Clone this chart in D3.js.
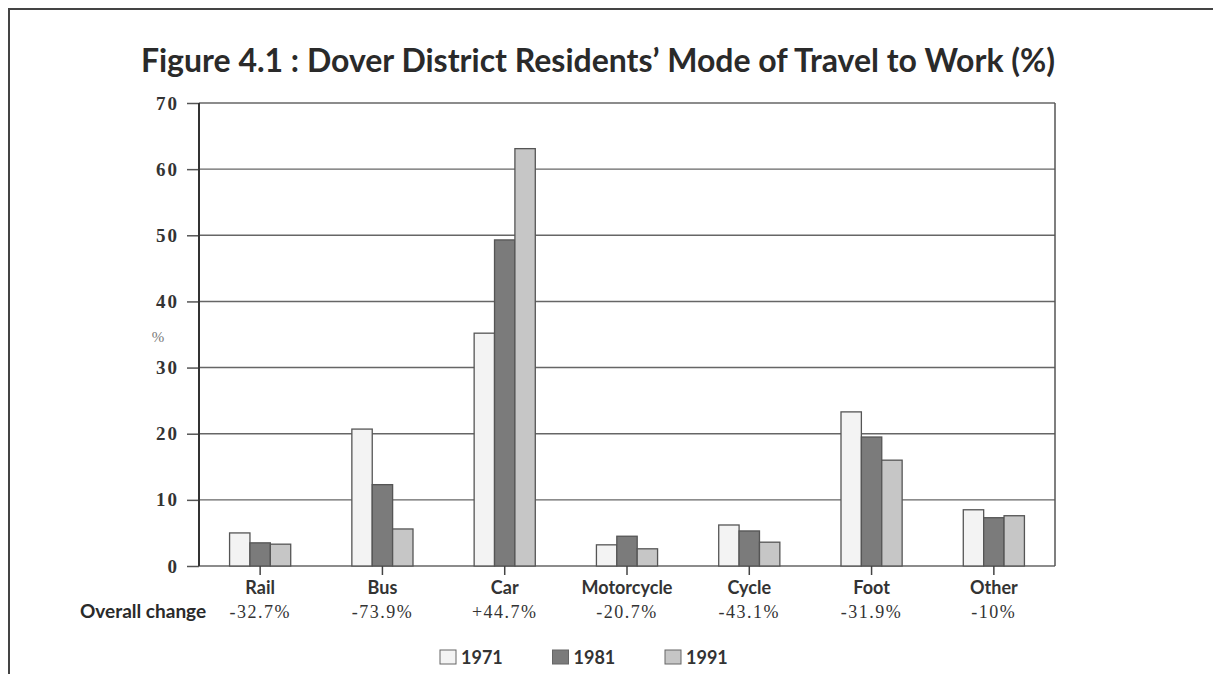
<!DOCTYPE html>
<html>
<head>
<meta charset="utf-8">
<script src="https://cdn.jsdelivr.net/npm/d3@7"></script>
<style>
  body { margin: 0; background: #fff; }
  .title { font-family: Lato, "Open Sans", sans-serif; font-weight: bold; fill: #2a2a2a; }
  .ytick text { font-family: "Liberation Serif", "DejaVu Serif", serif; font-weight: bold; font-size: 19px; letter-spacing: 2px; fill: #333; }
</style>
</head>
<body>
<script>
// categories and values (percent of residents)
var modes = ["Rail", "Bus", "Car", "Motorcycle", "Cycle", "Foot", "Other"];
var years = ["1971", "1981", "1991"];
var v1971 = [5.0, 20.7, 35.2, 3.2, 6.2, 23.3, 8.5];
var v1981 = [3.5, 12.3, 49.3, 4.5, 5.3, 19.5, 7.3];
var v1991 = [3.3, 5.6, 63.1, 2.6, 3.6, 16.0, 7.6];
var change = ["-32.7%", "-73.9%", "+44.7%", "-20.7%", "-43.1%", "-31.9%", "-10%"];
var yTicks = [0, 10, 20, 30, 40, 50, 60, 70];

window.onload = function() {
  var W = 1213, H = 674;
  var margin = {top: 103, right: 158, bottom: 108, left: 199},
      width = W - margin.left - margin.right,
      height = H - margin.top - margin.bottom;

  var svg = d3.select("body").append("svg")
    .attr("width", W)
    .attr("height", H);

  // outer frame (top and left only)
  svg.append("path")
    .attr("d", "M9 674 L9 9 L1213 9")
    .attr("fill", "none")
    .attr("stroke", "#444")
    .attr("stroke-width", 2);

  svg.append("text")
    .attr("class", "title")
    .attr("x", 598)
    .attr("y", 72)
    .attr("text-anchor", "middle")
    .style("font-size", "32px")
    .text("Figure 4.1 : Dover District Residents\u2019 Mode of Travel to Work (%)");

  var g = svg.append("g")
    .attr("transform", "translate(" + margin.left + "," + margin.top + ")");

  var x0 = d3.scaleBand().domain(modes).range([0, width]).paddingInner(0.5).paddingOuter(0.25);
  var x1 = d3.scaleBand().domain(years).range([0, x0.bandwidth()]);
  var y = d3.scaleLinear().domain([0, 70]).range([height, 0]);

  var color = d3.scaleOrdinal().domain(years).range(["#f3f3f3", "#7b7b7b", "#c6c6c6"]);

  // gridlines + y axis
  var yaxis = d3.axisLeft(y).tickValues(yTicks).tickSize(12).tickPadding(8);
  g.append("g")
    .attr("class", "ytick")
    .call(yaxis)
    .call(function(s) {
      s.select(".domain").remove();
      s.selectAll("line").attr("stroke", "#555").attr("stroke-width", 1.5);
    });

  g.append("g")
    .selectAll("line")
    .data(yTicks)
    .enter().append("line")
    .attr("x1", 0)
    .attr("x2", width)
    .attr("y1", function(d) { return y(d); })
    .attr("y2", function(d) { return y(d); })
    .attr("stroke", "#666")
    .attr("stroke-width", 1.4);

  // plot frame sides
  g.append("line").attr("x1", 0).attr("x2", 0).attr("y1", 0).attr("y2", height)
    .attr("stroke", "#333").attr("stroke-width", 2);
  g.append("line").attr("x1", width).attr("x2", width).attr("y1", 0).attr("y2", height)
    .attr("stroke", "#555").attr("stroke-width", 1.5);

  // bars
  var series = [v1971, v1981, v1991];
  var rows = modes.map(function(m, i) {
    return years.map(function(yr, j) { return {mode: m, year: yr, value: series[j][i]}; });
  });

  g.selectAll("g.grp")
    .data(rows)
    .enter().append("g")
    .attr("class", "grp")
    .attr("transform", function(d) { return "translate(" + x0(d[0].mode) + ",0)"; })
    .selectAll("rect")
    .data(function(d) { return d; })
    .enter().append("rect")
    .attr("x", function(d) { return x1(d.year); })
    .attr("y", function(d) { return y(d.value); })
    .attr("width", x1.bandwidth())
    .attr("height", function(d) { return height - y(d.value); })
    .attr("fill", function(d) { return color(d.year); })
    .attr("stroke", "#555")
    .attr("stroke-width", 1.3);

  // x axis ticks and labels
  var xaxis = d3.axisBottom(x0).tickSize(9).tickPadding(6);
  g.append("g")
    .attr("transform", "translate(0," + height + ")")
    .call(xaxis)
    .call(function(s) {
      s.select(".domain").remove();
      s.selectAll("line").attr("stroke", "#444").attr("stroke-width", 1.5);
      s.selectAll("text")
        .style("font-family", "Lato, sans-serif")
        .style("font-weight", "bold")
        .style("font-size", "18px")
        .style("fill", "#333");
    });

  // overall change row
  g.selectAll("text.chg")
    .data(change)
    .enter().append("text")
    .attr("class", "chg")
    .attr("x", function(d, i) { return x0(modes[i]) + x0.bandwidth() / 2; })
    .attr("y", height + 52)
    .attr("text-anchor", "middle")
    .style("font-family", "Liberation Serif, serif")
    .style("font-size", "18px")
    .style("letter-spacing", "1.5px")
    .style("fill", "#333")
    .text(function(d) { return d; });

  svg.append("text")
    .attr("x", 80)
    .attr("y", margin.top + height + 52)
    .style("font-family", "Lato, sans-serif")
    .style("font-weight", "bold")
    .style("font-size", "19px")
    .style("fill", "#2a2a2a")
    .text("Overall change");

  // y label
  svg.append("text")
    .attr("x", 158)
    .attr("y", 342)
    .attr("text-anchor", "middle")
    .style("font-family", "Liberation Serif, serif")
    .style("font-size", "15px")
    .style("fill", "#777")
    .text("%");

  // legend
  var legX = d3.scalePoint().domain(years).range([440, 665]);
  var leg = svg.selectAll("g.leg")
    .data(years)
    .enter().append("g")
    .attr("class", "leg")
    .attr("transform", function(d) { return "translate(" + legX(d) + ",650)"; });
  leg.append("rect")
    .attr("width", 16)
    .attr("height", 14)
    .attr("fill", function(d) { return color(d); })
    .attr("stroke", "#666")
    .attr("stroke-width", 1);
  leg.append("text")
    .attr("x", 21)
    .attr("y", 14)
    .style("font-family", "Lato, sans-serif")
    .style("font-weight", "bold")
    .style("font-size", "18px")
    .style("fill", "#333")
    .text(function(d) { return d; });
};
</script>
</body>
</html>
